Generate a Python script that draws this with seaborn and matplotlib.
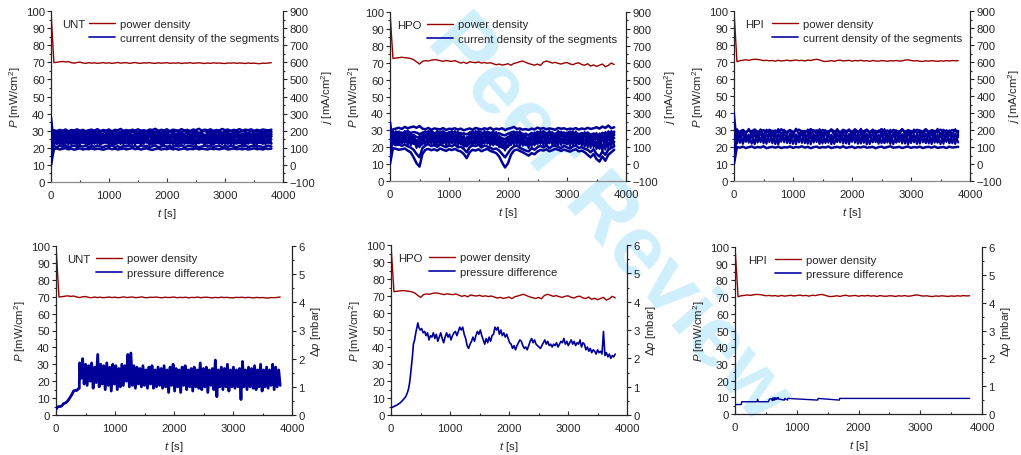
import numpy as np
import pandas as pd
import matplotlib
matplotlib.use("Agg")
import matplotlib.pyplot as plt
import seaborn as sns
from matplotlib.lines import Line2D
from matplotlib.ticker import MultipleLocator

# ---------------- data ----------------
T_END = 3800
LABELS = ["UNT", "HPO", "HPI"]

# power density P [mW/cm2], equally spaced 0..3800 s
P_UNT = [100, 69.8, 70.0, 70.3, 70.5, 70.2, 70.4, 69.8, 69.5, 69.9, 70.1, 69.6, 69.4, 69.8, 69.5, 69.7,
         69.4, 69.6, 69.8, 69.5, 69.7, 69.4, 69.6, 69.9, 69.5, 69.7, 69.8, 69.4, 69.6, 69.9, 69.5, 69.4,
         69.7, 69.6, 69.8, 69.5, 69.4, 69.7, 69.5, 69.6, 69.8, 69.4, 69.6, 69.5, 69.7, 69.3, 69.6, 69.5,
         69.8, 69.4, 69.6, 69.7, 69.5, 69.3, 69.6, 69.4, 69.7, 69.5, 69.6, 69.4, 69.3, 69.6, 69.5, 69.7,
         69.4, 69.6, 69.5, 69.3, 69.6, 69.4, 69.5, 69.3, 69.2, 69.5, 69.4, 69.6, 69.8]
P_HPO = [100, 72.5, 72.8, 73.0, 73.2, 73.0, 72.8, 72.5, 71.8, 70.5, 69.2, 70.8, 71.2, 71.0, 71.5, 71.8,
         71.6, 71.2, 70.8, 71.3, 71.0, 70.8, 71.2, 70.5, 69.8, 70.3, 69.5, 70.6, 70.2, 70.0, 70.4, 69.8,
         70.1, 69.7, 70.0, 69.4, 68.8, 69.2, 68.6, 68.9, 69.4, 68.5, 69.6, 70.0, 70.6, 71.0, 70.2, 69.5,
         69.0, 68.5, 69.2, 68.4, 70.3, 71.0, 70.5, 69.8, 70.2, 69.6, 69.2, 69.8, 70.1, 69.3, 68.8, 69.6,
         69.9, 68.9, 68.5, 69.4, 68.0, 68.7, 67.8, 68.5, 69.2, 67.6, 68.4, 69.8, 68.9]
P_HPI = [100, 70.2, 70.8, 71.0, 71.3, 71.0, 71.4, 71.6, 71.5, 71.2, 70.8, 71.0, 70.7, 70.9, 70.5, 71.0,
         70.6, 70.8, 71.1, 70.7, 70.9, 71.2, 70.8, 71.0, 70.6, 71.1, 70.9, 71.3, 71.6, 71.2, 70.6, 70.3,
         70.5, 70.8, 70.4, 70.9, 71.1, 70.6, 70.8, 71.0, 70.5, 70.9, 70.7, 71.0, 70.6, 70.8, 70.4, 70.9,
         70.6, 70.5, 70.8, 70.7, 70.4, 70.8, 70.6, 70.9, 70.5, 70.7, 71.1, 71.3, 70.9, 70.6, 70.8, 70.5,
         70.3, 70.7, 70.5, 70.8, 70.6, 70.4, 70.7, 70.5, 70.8, 70.6, 70.9, 70.7, 70.8]

# current density of the segments j [mA/cm2], equally spaced 0..3800 s
J_UNT_1 = [0, 92, 96, 90, 94, 98, 91, 95, 89, 93, 97, 90, 94, 92, 96, 91, 95, 93, 89, 94, 97, 92, 95, 90, 93, 96, 91, 94, 98, 92, 95, 90, 94, 97, 91, 88, 93, 96, 90, 94, 92, 97, 91, 95, 89, 93, 96, 90, 94, 92, 97, 91, 95, 93, 90, 96, 92, 94, 91, 95, 97, 90, 93, 96, 92, 94, 91, 95, 90, 93, 97, 92, 94, 90, 96, 93, 95]
J_UNT_2 = [280, 110, 104, 112, 106, 115, 103, 109, 113, 105, 111, 107, 114, 102, 110, 106, 113, 108, 104, 112, 107, 115, 105, 109, 103, 111, 108, 114, 106, 110, 104, 113, 107, 111, 105, 109, 114, 103, 108, 112, 106, 110, 104, 113, 107, 115, 105, 109, 112, 106, 110, 103, 108, 114, 107, 111, 105, 109, 113, 104, 110, 106, 112, 108, 103, 111, 107, 114, 105, 109, 112, 106, 110, 104, 108, 113, 107]
J_UNT_3 = [200, 130, 124, 133, 121, 129, 135, 125, 131, 122, 128, 134, 126, 120, 130, 127, 136, 123, 129, 132, 125, 131, 121, 128, 134, 126, 130, 123, 137, 127, 132, 124, 129, 135, 122, 130, 126, 133, 121, 128, 131, 125, 136, 127, 123, 130, 134, 126, 129, 122, 132, 128, 135, 124, 130, 127, 121, 133, 126, 131, 128, 124, 136, 129, 125, 132, 122, 130, 127, 134, 123, 129, 131, 126, 128, 133, 125]
J_UNT_4 = [150, 148, 143, 152, 140, 147, 155, 142, 149, 138, 146, 153, 141, 150, 144, 157, 139, 148, 151, 143, 146, 154, 140, 149, 145, 152, 138, 147, 156, 142, 150, 144, 148, 153, 141, 146, 155, 139, 150, 143, 147, 152, 140, 149, 156, 144, 148, 141, 153, 146, 139, 151, 145, 150, 142, 157, 147, 143, 152, 140, 148, 154, 145, 149, 141, 155, 146, 143, 150, 139, 152, 147, 144, 156, 141, 148, 150]
J_UNT_5 = [100, 165, 160, 168, 157, 164, 171, 159, 166, 155, 163, 170, 158, 165, 161, 173, 156, 164, 169, 160, 166, 158, 172, 162, 157, 167, 163, 174, 159, 165, 161, 168, 155, 166, 171, 160, 163, 157, 169, 164, 158, 172, 161, 167, 156, 165, 170, 162, 159, 168, 163, 175, 160, 166, 157, 169, 164, 161, 173, 158, 165, 162, 170, 156, 167, 163, 171, 159, 166, 160, 168, 164, 157, 172, 162, 165, 167]
J_UNT_6 = [60, 180, 175, 184, 172, 181, 176, 188, 173, 179, 185, 171, 182, 177, 186, 174, 180, 183, 170, 178, 187, 175, 181, 173, 184, 179, 176, 189, 172, 182, 178, 185, 174, 180, 176, 187, 171, 183, 179, 175, 186, 173, 181, 177, 184, 172, 180, 188, 176, 182, 174, 179, 185, 171, 183, 177, 186, 175, 180, 173, 184, 178, 182, 176, 187, 172, 181, 179, 185, 174, 183, 177, 180, 186, 175, 182, 178]
J_UNT_7 = [30, 194, 189, 198, 186, 195, 191, 200, 187, 193, 197, 185, 196, 190, 199, 188, 194, 192, 201, 186, 195, 190, 198, 187, 193, 196, 189, 202, 191, 194, 188, 197, 192, 186, 199, 190, 195, 193, 187, 200, 191, 196, 189, 198, 194, 188, 201, 192, 195, 190, 197, 186, 194, 199, 189, 203, 193, 191, 198, 187, 196, 192, 200, 188, 195, 190, 199, 193, 186, 197, 191, 201, 189, 195, 192, 198, 194]
J_UNT_8 = [0, 203, 198, 205, 200, 207, 196, 204, 201, 208, 199, 205, 197, 203, 206, 200, 209, 198, 204, 201, 207, 196, 205, 202, 210, 199, 204, 197, 206, 201, 208, 200, 203, 198, 207, 204, 211, 199, 205, 202, 208, 197, 206, 203, 200, 209, 201, 205, 198, 207, 203, 211, 200, 206, 202, 208, 199, 204, 201, 210, 203, 207, 198, 205, 202, 209, 200, 206, 203, 208, 199, 205, 201, 207, 204, 202, 206]
J_UNT_9 = [150, 125, 190, 118, 184, 130, 195, 122, 178, 116, 188, 127, 181, 120, 193, 124, 176, 119, 186, 129, 191, 117, 183, 126, 179, 121, 194, 128, 175, 118, 187, 123, 182, 130, 190, 116, 185, 125, 177, 120, 192, 127, 180, 118, 189, 124, 184, 131, 176, 119, 193, 126, 181, 117, 188, 122, 178, 129, 191, 120, 185, 125, 175, 118, 194, 127, 183, 121, 186, 130, 179, 116, 190, 123, 182, 128, 187]
J_UNT_10 = [150, 185, 122, 191, 128, 176, 117, 189, 125, 182, 120, 194, 129, 177, 118, 186, 123, 190, 126, 180, 116, 187, 131, 178, 121, 192, 124, 183, 119, 188, 127, 175, 122, 193, 118, 181, 130, 186, 120, 190, 125, 179, 117, 184, 128, 191, 121, 176, 126, 188, 119, 182, 130, 177, 123, 194, 118, 185, 127, 180, 122, 189, 116, 183, 129, 178, 120, 192, 124, 181, 117, 187, 128, 176, 121, 190, 125]
J_UNT_11 = [150, 140, 172, 136, 168, 143, 176, 138, 165, 145, 171, 134, 174, 141, 166, 137, 178, 144, 169, 135, 173, 140, 164, 146, 177, 139, 170, 133, 175, 142, 167, 136, 172, 145, 168, 138, 176, 141, 165, 134, 171, 143, 174, 137, 169, 146, 166, 139, 177, 135, 173, 142, 168, 140, 175, 136, 170, 144, 164, 138, 178, 141, 167, 134, 172, 145, 169, 137, 174, 143, 166, 140, 176, 135, 171, 142, 168]

J_HPO_1 = [0, 95, 90, 85, 88, 92, 80, 70, 40, 5, -15, 60, 85, 90, 82, 88, 80, 92, 85, 78, 88, 83, 90, 80, 75, 60, 35, 70, 85, 80, 88, 76, 84, 90, 78, 72, 65, 45, 10, -20, 5, 55, 80, 86, 78, 70, 60, 50, 65, 58, 75, 84, 80, 88, 76, 82, 90, 85, 78, 86, 80, 74, 82, 88, 75, 80, 70, 55, 40, 60, 30, 15, 45, 20, 55, 70, 85]
J_HPO_2 = [250, 120, 112, 118, 108, 115, 105, 98, 85, 60, 40, 95, 110, 118, 106, 114, 102, 116, 108, 100, 112, 105, 117, 99, 103, 90, 70, 100, 112, 106, 115, 98, 110, 104, 96, 88, 92, 80, 60, 40, 65, 90, 104, 110, 96, 88, 80, 75, 95, 85, 100, 108, 98, 112, 94, 106, 110, 101, 95, 108, 99, 92, 104, 110, 96, 100, 90, 85, 70, 88, 60, 45, 75, 55, 85, 95, 105]
J_HPO_3 = [180, 135, 128, 138, 126, 134, 140, 130, 122, 115, 105, 125, 136, 130, 142, 127, 137, 131, 124, 139, 129, 135, 126, 133, 120, 112, 105, 128, 136, 124, 139, 131, 126, 134, 120, 129, 117, 110, 98, 90, 105, 122, 133, 127, 138, 121, 115, 108, 124, 119, 131, 126, 137, 123, 132, 128, 121, 135, 127, 130, 118, 134, 125, 129, 120, 127, 114, 122, 110, 118, 100, 95, 112, 104, 120, 128, 132]
J_HPO_4 = [120, 152, 146, 155, 143, 151, 158, 147, 153, 140, 130, 145, 156, 149, 160, 144, 153, 148, 157, 142, 150, 155, 146, 152, 141, 136, 128, 148, 154, 145, 158, 150, 143, 155, 147, 152, 140, 145, 132, 125, 138, 148, 155, 143, 152, 139, 135, 130, 146, 141, 153, 149, 157, 144, 151, 147, 140, 154, 148, 150, 142, 156, 145, 149, 138, 147, 141, 150, 136, 144, 130, 125, 140, 133, 145, 150, 154]
J_HPO_5 = [80, 170, 165, 174, 162, 171, 177, 166, 172, 160, 155, 165, 175, 168, 179, 163, 172, 167, 176, 161, 169, 174, 165, 171, 160, 158, 150, 167, 173, 164, 177, 169, 162, 174, 166, 171, 159, 165, 152, 148, 160, 168, 174, 162, 171, 158, 155, 150, 166, 160, 172, 168, 176, 163, 170, 166, 159, 173, 167, 169, 161, 175, 164, 168, 157, 166, 160, 169, 155, 163, 150, 148, 160, 152, 165, 170, 173]
J_HPO_6 = [50, 188, 183, 192, 180, 189, 195, 184, 190, 186, 178, 184, 193, 186, 197, 181, 190, 185, 194, 179, 187, 192, 183, 189, 178, 182, 176, 185, 191, 182, 195, 187, 180, 192, 184, 189, 177, 183, 174, 170, 180, 186, 192, 180, 189, 176, 178, 172, 184, 178, 190, 186, 194, 181, 188, 184, 177, 191, 185, 187, 179, 193, 182, 186, 175, 184, 178, 187, 173, 181, 176, 170, 185, 178, 190, 188, 192]
J_HPO_7 = [20, 205, 210, 215, 208, 220, 212, 218, 222, 215, 225, 210, 206, 214, 203, 211, 208, 205, 213, 202, 209, 207, 212, 204, 210, 200, 206, 211, 203, 214, 209, 205, 212, 207, 215, 203, 210, 206, 212, 201, 209, 213, 220, 208, 211, 204, 207, 202, 210, 205, 216, 209, 213, 206, 211, 208, 203, 214, 209, 212, 205, 210, 207, 213, 204, 211, 206, 215, 208, 212, 218, 210, 222, 214, 228, 212, 218]
J_HPO_8 = [150, 120, 195, 112, 188, 125, 200, 110, 150, 95, 170, 115, 192, 120, 185, 108, 198, 118, 182, 112, 190, 122, 196, 110, 186, 100, 160, 115, 194, 118, 187, 105, 199, 120, 184, 110, 191, 100, 150, 80, 160, 112, 190, 118, 196, 108, 183, 95, 175, 110, 192, 120, 186, 104, 197, 116, 181, 111, 193, 121, 188, 106, 195, 114, 180, 108, 190, 98, 175, 100, 185, 90, 170, 85, 195, 100, 190]
J_HPO_9 = [150, 190, 115, 184, 122, 196, 108, 180, 118, 140, 100, 188, 112, 197, 119, 183, 110, 191, 124, 186, 106, 194, 117, 181, 120, 170, 110, 189, 107, 198, 115, 185, 121, 190, 109, 195, 118, 165, 105, 120, 100, 187, 114, 193, 106, 182, 112, 160, 104, 188, 116, 196, 110, 184, 122, 190, 105, 197, 113, 182, 119, 189, 108, 194, 117, 180, 102, 186, 95, 178, 88, 182, 75, 190, 92, 196, 110]
J_HPO_10 = [150, 145, 178, 138, 172, 150, 182, 140, 168, 120, 150, 143, 176, 136, 180, 148, 170, 139, 184, 146, 173, 137, 179, 151, 167, 130, 150, 141, 181, 147, 171, 135, 177, 149, 183, 142, 169, 130, 155, 125, 160, 144, 175, 138, 182, 146, 168, 128, 172, 137, 180, 150, 174, 140, 185, 145, 170, 136, 178, 148, 166, 139, 183, 143, 172, 130, 176, 125, 165, 135, 170, 120, 175, 128, 180, 140, 178]

J_HPI_1 = [0, 100, 96, 102, 94, 99, 103, 95, 100, 97, 104, 93, 98, 101, 96, 102, 94, 99, 97, 103, 95, 100, 98, 104, 96, 101, 93, 99, 102, 95, 100, 97, 103, 94, 98, 101, 96, 104, 95, 99, 102, 94, 100, 97, 103, 96, 98, 101, 93, 99, 102, 95, 100, 104, 96, 98, 101, 94, 99, 103, 95, 100, 97, 102, 94, 99, 101, 96, 103, 95, 98, 100, 94, 102, 97, 99, 101]
J_HPI_2 = [300, 120, 185, 118, 176, 125, 190, 116, 182, 128, 172, 119, 188, 122, 179, 115, 186, 127, 174, 121, 192, 117, 181, 124, 177, 119, 189, 126, 173, 118, 184, 123, 191, 116, 178, 129, 186, 120, 175, 117, 193, 125, 180, 122, 187, 115, 176, 128, 183, 119, 190, 124, 174, 118, 185, 126, 179, 121, 192, 116, 181, 127, 173, 120, 188, 123, 177, 117, 186, 125, 182, 119, 191, 122, 175, 118, 184]
J_HPI_3 = [150, 178, 124, 187, 130, 174, 119, 183, 126, 192, 121, 179, 128, 185, 117, 176, 131, 189, 123, 181, 118, 175, 127, 190, 122, 184, 116, 178, 129, 186, 120, 193, 125, 173, 118, 182, 127, 188, 121, 177, 130, 184, 119, 191, 124, 179, 117, 186, 128, 174, 122, 189, 126, 181, 116, 185, 129, 176, 120, 192, 123, 178, 118, 187, 127, 180, 121, 190, 125, 175, 117, 183, 130, 186, 122, 179, 126]
J_HPI_4 = [60, 150, 165, 140, 170, 145, 160, 135, 168, 148, 158, 138, 172, 143, 162, 132, 166, 150, 155, 137, 171, 146, 161, 134, 167, 142, 157, 139, 173, 149, 163, 136, 169, 144, 159, 131, 165, 147, 156, 140, 170, 135, 164, 148, 158, 137, 172, 143, 160, 133, 167, 150, 155, 139, 171, 145, 162, 136, 168, 141, 157, 134, 166, 149, 163, 138, 170, 144, 159, 132, 165, 147, 161, 140, 169, 143, 158]
J_HPI_5 = [20, 196, 190, 200, 186, 198, 192, 203, 188, 195, 199, 185, 201, 191, 197, 187, 204, 193, 189, 200, 186, 196, 202, 190, 194, 188, 205, 192, 198, 185, 200, 195, 189, 203, 191, 197, 186, 201, 193, 199, 188, 204, 190, 196, 192, 202, 187, 198, 194, 189, 205, 191, 197, 186, 200, 195, 190, 203, 188, 199, 193, 187, 201, 196, 191, 204, 189, 198, 194, 186, 202, 192, 197, 190, 200, 195, 193]
J_HPI_6 = [150, 132, 172, 126, 180, 135, 168, 122, 177, 138, 165, 128, 183, 133, 170, 124, 175, 139, 166, 127, 181, 131, 169, 136, 178, 123, 173, 137, 167, 129, 184, 134, 171, 125, 176, 140, 164, 130, 179, 126, 172, 138, 168, 121, 182, 135, 174, 128, 166, 139, 180, 124, 170, 133, 177, 127, 165, 136, 183, 122, 171, 137, 169, 130, 176, 125, 181, 134, 167, 129, 174, 139, 170, 123, 178, 132, 168]
J_HPI_7 = [150, 205, 172, 200, 178, 207, 170, 198, 176, 204, 171, 202, 180, 197, 174, 206, 169, 201, 177, 199, 173, 208, 175, 196, 179, 203, 170, 200, 176, 205, 172, 198, 181, 202, 168, 206, 174, 199, 177, 204, 171, 197, 180, 207, 173, 200, 178, 203, 169, 198, 175, 205, 172, 201, 179, 196, 170, 206, 176, 199, 174, 203, 181, 197, 171, 204, 177, 200, 173, 207, 169, 202, 178, 198, 175, 205, 172]

# pressure difference dp [mbar]
DP_UNT_RISE_T = [0, 25, 50, 75, 100, 125, 150, 175, 200, 225, 250, 275, 300, 325, 350, 375, 395]
DP_UNT_RISE = [0.20, 0.28, 0.30, 0.30, 0.33, 0.40, 0.42, 0.45, 0.50, 0.58, 0.66, 0.75, 0.86, 0.87, 0.87, 0.92, 0.95]
DP_UNT_NOISE = [1.85, 1.3, 2.0, 1.1, 1.8, 1.05, 1.75, 1.2, 1.85, 0.95, 1.7, 1.15, 2.15, 1.0, 1.8, 1.1, 1.75, 0.9,
                1.85, 1.05, 1.7, 0.85, 1.8, 1.1, 1.75, 0.9, 1.65, 1.0, 1.8, 1.05, 1.75, 1.2, 2.15, 1.0, 2.2, 1.05,
                1.75, 0.95, 1.7, 1.1, 1.65, 1.0, 1.75, 1.05, 1.6, 0.95, 1.7, 1.1, 1.75, 0.95, 1.6, 1.0, 1.7, 1.05,
                1.65, 0.95, 1.75, 1.0, 1.6, 0.8, 1.7, 1.05, 1.8, 0.85, 1.65, 1.0, 1.6, 0.8, 1.7, 1.05, 1.75, 0.9,
                1.6, 1.0, 1.65, 0.85, 1.7, 1.0, 1.6, 0.95, 1.85, 0.9, 1.65, 1.0, 1.7, 0.8, 1.6, 1.05, 1.65, 0.9,
                1.95, 0.65, 1.6, 1.0, 1.7, 0.9, 1.65, 1.0, 1.8, 0.85, 1.6, 1.0, 1.7, 0.95, 1.6, 1.0, 1.65, 0.55,
                1.9, 1.0, 1.6, 0.9, 1.7, 1.0, 1.65, 0.95, 1.75, 0.9, 1.6, 1.0, 1.8, 0.85, 1.6, 1.0, 1.7, 0.95,
                1.6, 1.05, 1.8, 0.9, 1.7, 1.0, 1.6, 1.05]
DP_HPO_RISE_T = [0, 50, 100, 150, 200, 250, 280, 300, 320, 340, 360, 380, 400, 420, 440, 455]
DP_HPO_RISE = [0.25, 0.30, 0.35, 0.42, 0.52, 0.65, 0.80, 0.95, 1.20, 1.60, 2.00, 2.50, 2.65, 2.90, 3.10, 3.25]
DP_HPO_NOISE = [3.1, 3.0, 3.05, 2.9, 2.95, 2.8, 2.9, 2.65, 2.8, 2.75, 2.9, 2.7, 2.85, 2.6, 2.75, 2.9, 2.7, 2.55,
                2.75, 2.9, 2.75, 2.85, 2.65, 2.8, 2.9, 2.95, 2.8, 2.95, 3.1, 3.0, 3.1, 2.85, 2.7, 2.45, 2.35, 2.5,
                2.6, 2.75, 2.6, 2.8, 2.95, 2.85, 3.0, 2.8, 2.65, 2.5, 2.7, 2.55, 2.75, 2.6, 2.8, 2.85, 3.1, 3.0,
                3.1, 2.85, 3.0, 2.8, 2.9, 2.75, 2.85, 2.7, 2.55, 2.5, 2.35, 2.45, 2.3, 2.45, 2.55, 2.65, 2.6, 2.45,
                2.35, 2.4, 2.3, 2.45, 2.6, 2.7, 2.55, 2.65, 2.5, 2.45, 2.4, 2.35, 2.45, 2.55, 2.65, 2.5, 2.6, 2.45,
                2.5, 2.4, 2.5, 2.45, 2.55, 2.4, 2.5, 2.6, 2.55, 2.7, 2.5, 2.6, 2.45, 2.55, 2.65, 2.5, 2.6, 2.45,
                2.55, 2.5, 2.65, 2.4, 2.55, 2.5, 2.3, 2.4, 2.25, 2.35, 2.2, 2.3, 2.25, 2.15, 2.3, 2.2, 2.25, 2.15,
                2.95, 2.1, 2.2, 2.05, 2.15, 2.0, 2.1, 2.05, 2.15]
DP_HPI_T = [0, 100, 110, 360, 365, 372, 380, 540, 560, 600, 605, 615, 620, 635, 640, 655, 660, 680, 685,
            700, 705, 800, 805, 850, 855, 1340, 1345, 1690, 1695, 3800]
DP_HPI = [0.34, 0.34, 0.44, 0.44, 0.53, 0.47, 0.44, 0.44, 0.54, 0.54, 0.48, 0.58, 0.50, 0.58, 0.50, 0.58,
          0.52, 0.58, 0.54, 0.59, 0.54, 0.50, 0.56, 0.50, 0.56, 0.50, 0.56, 0.50, 0.56, 0.56]

# ---------------- style ----------------
sns.set_theme(style="ticks")
plt.rcParams["font.family"] = ["Liberation Sans", "DejaVu Sans"]
plt.rcParams["mathtext.fontset"] = "custom"
plt.rcParams["mathtext.rm"] = "Liberation Sans"
plt.rcParams["mathtext.it"] = "Liberation Sans:italic"
plt.rcParams["mathtext.bf"] = "Liberation Sans:bold"
plt.rcParams["mathtext.sf"] = "Liberation Sans"
plt.rcParams["axes.linewidth"] = 0.9

RED = "#990000"
BLUE = "#000099"
FS = 8.2
W, H = 1021, 456

fig = plt.figure(figsize=(W / 100, H / 100), dpi=100)
fig.patch.set_facecolor("white")

# watermark
fig.text(608 / W, 1 - 220 / H, "Peer Review", rotation=-49, color="#d0effc", fontsize=62,
         fontweight="bold", ha="center", va="center", zorder=-10)

# axes boxes in pixels: x0, x1, y0(top), y1(bottom)
BOXES = [(51, 283, 12, 183), (390, 626, 13, 182), (734, 970, 12, 182),
         (56, 292, 247, 416), (391, 627, 246, 416), (735, 982, 248, 415)]
LAB_X = [0.047, 0.03, 0.047, 0.047, 0.03, 0.053]
LEG_X = [0.164, 0.157, 0.161, 0.169, 0.161, 0.162]

P_ALL = [P_UNT, P_HPO, P_HPI]
J_SMOOTH = [[J_UNT_1, J_UNT_2, J_UNT_3, J_UNT_4, J_UNT_5, J_UNT_6, J_UNT_7, J_UNT_8],
            [J_HPO_1, J_HPO_2, J_HPO_3, J_HPO_4, J_HPO_5, J_HPO_6, J_HPO_7],
            [J_HPI_1, J_HPI_5]]
J_ZIGZAG = [[J_UNT_9, J_UNT_10, J_UNT_11],
            [J_HPO_8, J_HPO_9, J_HPO_10],
            [J_HPI_2, J_HPI_3, J_HPI_4, J_HPI_6, J_HPI_7]]


def dp_series(i):
    if i == 0:
        t = list(DP_UNT_RISE_T) + list(np.linspace(400, T_END, len(DP_UNT_NOISE)))
        return t, DP_UNT_RISE + DP_UNT_NOISE
    if i == 1:
        t = list(DP_HPO_RISE_T) + list(np.linspace(470, T_END, len(DP_HPO_NOISE)))
        return t, DP_HPO_RISE + DP_HPO_NOISE
    return DP_HPI_T, DP_HPI


def line(ax, t, v, color, lw):
    df = pd.DataFrame({"t": t, "v": v})
    sns.lineplot(data=df, x="t", y="v", ax=ax, color=color, lw=lw,
                 estimator=None, sort=False, legend=False)


for k, (x0, x1, y0, y1) in enumerate(BOXES):
    row, col = divmod(k, 3)
    ax = fig.add_axes([x0 / W, 1 - y1 / H, (x1 - x0) / W, (y1 - y0) / H])
    ax2 = ax.twinx()
    ax.set_facecolor("none")
    ax2.set_facecolor("none")

    p = P_ALL[col]
    line(ax, np.linspace(0, T_END, len(p)), p, RED, 1.0)
    if row == 0:
        for seg in J_SMOOTH[col]:
            line(ax2, np.linspace(0, T_END, len(seg)), seg, BLUE, 1.8)
        for seg in J_ZIGZAG[col]:
            line(ax2, np.linspace(0, T_END, len(seg)), seg, BLUE, 1.5)
        ax2.set_ylim(-100, 900)
        ax2.yaxis.set_major_locator(MultipleLocator(100))
        ax2.yaxis.set_minor_locator(MultipleLocator(50))
        ax2.set_ylabel("$j$ [mA/cm$^2$]", fontsize=FS, labelpad=3)
        lab2 = "current density of the segments"
    else:
        t, v = dp_series(col)
        line(ax2, t, v, BLUE, [2.0, 1.2, 1.0][col])
        ax2.set_ylim(0, 6)
        ax2.yaxis.set_major_locator(MultipleLocator(1))
        ax2.yaxis.set_minor_locator(MultipleLocator(0.5))
        ax2.set_ylabel(r"$\Delta p$ [mbar]", fontsize=FS, labelpad=3)
        lab2 = "pressure difference"

    ax.set_xlim(0, 4000)
    ax.set_ylim(0, 100)
    ax.xaxis.set_major_locator(MultipleLocator(1000))
    ax.xaxis.set_minor_locator(MultipleLocator(500))
    ax.yaxis.set_major_locator(MultipleLocator(10))
    ax.yaxis.set_minor_locator(MultipleLocator(5))
    ax.set_xlabel("$t$ [s]", fontsize=FS, labelpad=4.5)
    ax.set_ylabel("$P$ [mW/cm$^2$]", fontsize=FS, labelpad=2)

    ax.tick_params(axis="x", which="major", direction="in", length=3, width=0.8,
                   labelsize=FS, pad=5.5, color="#333333")
    ax.tick_params(axis="x", which="minor", direction="in", length=1.5, width=0.8)
    ax.tick_params(axis="y", which="major", direction="out", length=3, width=0.8,
                   labelsize=FS, pad=1.5)
    ax.tick_params(axis="y", which="minor", direction="out", length=1.5, width=0.8)
    ax2.tick_params(axis="y", which="major", direction="out", length=3, width=0.8,
                    labelsize=FS, pad=1.5)
    ax2.tick_params(axis="y", which="minor", direction="out", length=1.5, width=0.8)

    for a in (ax, ax2):
        a.spines["top"].set_visible(False)
    ax.spines["right"].set_visible(False)
    ax2.spines["left"].set_visible(False)
    ax2.spines["bottom"].set_visible(False)
    if row == 0:
        ax.spines["bottom"].set_color("#8a8a8a")

    ax2.text(LAB_X[k], 1 - 13 / (y1 - y0), LABELS[col], transform=ax2.transAxes,
             fontsize=FS, va="center", ha="left")
    handles = [Line2D([], [], color=RED, lw=1.0), Line2D([], [], color="#1a1aaa", lw=1.3)]
    ax2.legend(handles, ["power density", lab2], loc="upper left",
               bbox_to_anchor=(LEG_X[k], 1 - 7.5 / (y1 - y0)), frameon=False, fontsize=FS,
               handlelength=2.3, handletextpad=0.4, borderaxespad=0, borderpad=0,
               labelspacing=0.42)

fig.savefig("out.png", dpi=100, facecolor="white")
